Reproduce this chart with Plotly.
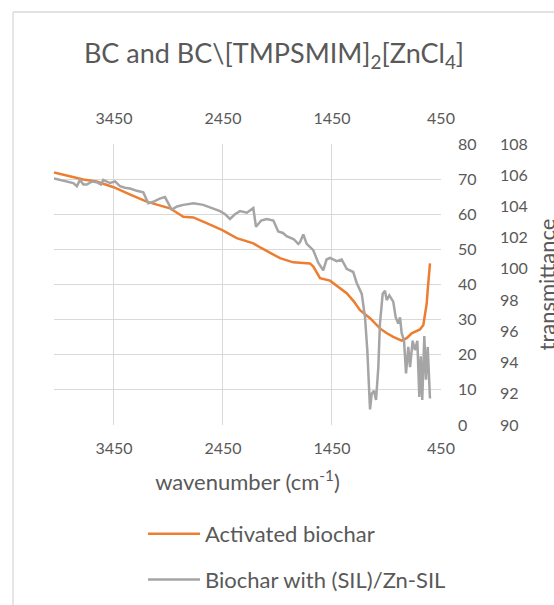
import plotly.graph_objects as go

# FTIR spectra: wavenumber (cm-1) vs transmittance
bc_wavenumber = [4000, 3854, 3731, 3609, 3453, 3300, 3150, 3040, 2936, 2814, 2722, 2600,
                 2456, 2324, 2171, 2100, 2049, 1927, 1805, 1700, 1652, 1621, 1590, 1560,
                 1468, 1400, 1315, 1250, 1193, 1101, 1010, 950, 888, 811, 765, 719, 643,
                 612, 600, 590, 581, 572, 563, 551]
bc_transmittance = [71.9, 70.7, 69.9, 69.3, 67.7, 65.6, 63.6, 62.6, 61.7, 59.3, 59.1, 57.5,
                    55.5, 53.2, 51.7, 50.4, 49.6, 47.5, 46.3, 46.1, 46.0, 45.1, 43.5, 41.8,
                    41.1, 39.4, 37.5, 35.2, 32.7, 30.4, 27.5, 26.2, 25.1, 24.0, 24.7, 26.1, 27.2,
                    28.5, 30.5, 32.7, 34.6, 38.4, 43.2, 46.0]

sil_wavenumber = [4000, 3930, 3870, 3823, 3790, 3762, 3730, 3700, 3650, 3609, 3570, 3548,
                  3520, 3487, 3440, 3395, 3350, 3303, 3240, 3181, 3135, 3089, 3030, 2982,
                  2921, 2870, 2814, 2720, 2631, 2550, 2477, 2430, 2386, 2340, 2294, 2230,
                  2172, 2147, 2100, 2049, 1988, 1943, 1900, 1866, 1800, 1759, 1744, 1713,
                  1682, 1622, 1576, 1530, 1500, 1468, 1407, 1361, 1315, 1255, 1223, 1177,
                  1147, 1126, 1101, 1086, 1065, 1046, 1025, 1010, 985, 964, 948, 924, 888,
                  866, 842, 826, 811, 789, 771, 750, 734, 710, 689, 667, 649, 636, 622, 603,
                  588, 572, 551]
sil_transmittance = [105.8, 105.7, 105.6, 105.5, 105.3, 105.7, 105.4, 105.4, 105.6, 105.55,
                     105.4, 105.7, 105.6, 105.5, 105.6, 105.3, 105.2, 105.15, 105.0, 104.9,
                     104.2, 104.3, 104.5, 104.6, 103.8, 104.0, 104.1, 104.2, 104.1, 103.9,
                     103.7, 103.5, 103.2, 103.5, 103.7, 103.6, 103.9, 102.7, 103.1, 103.2,
                     103.1, 102.4, 102.3, 102.1, 101.9, 101.6, 101.7, 102.2, 101.6, 101.2,
                     100.4, 99.9, 100.6, 100.7, 100.5, 100.6, 100.0, 99.8, 99.1, 98.4, 96.9,
                     94.8, 91.0, 92.0, 92.2, 91.6, 93.7, 96.5, 98.4, 98.6, 98.0, 98.3, 97.9,
                     96.9, 96.5, 96.9, 95.9, 95.4, 93.3, 95.0, 93.7, 95.4, 94.8, 95.4, 91.8,
                     94.4, 91.6, 95.7, 92.9, 95.0, 91.7]

series_names = ["Activated biochar", "Biochar with (SIL)/Zn-SIL"]
x_ticks = [3450, 2450, 1450, 450]

FONT = "Lato"
TEXT = "#595959"
GRID = "#D9D9D9"

fig = go.Figure()
fig.add_trace(go.Scatter(
    x=bc_wavenumber, y=bc_transmittance, name=series_names[0], mode="lines",
    line=dict(color="#ED7D31", width=2.5), legendgroup="a", xaxis="x", yaxis="y"))
fig.add_trace(go.Scatter(
    x=sil_wavenumber, y=sil_transmittance, name=series_names[1], mode="lines",
    line=dict(color="#A5A5A5", width=2.5), legendgroup="b", xaxis="x2", yaxis="y2"))

axis_font = dict(family=FONT, size=16, color=TEXT)
label_font = dict(family=FONT, size=22, color=TEXT)

fig.update_layout(
    width=554, height=605,
    margin=dict(l=54, r=113, t=144, b=180, autoexpand=False),
    paper_bgcolor="white", plot_bgcolor="white",
    font=dict(family=FONT, color=TEXT),
    title=dict(
        text="BC and BC\\[TMPSMIM]<sub>2</sub>[ZnCl<sub>4</sub>]",
        font=dict(family=FONT, size=27, color=TEXT),
        x=274 / 554, xref="container", xanchor="center",
        y=1 - 54 / 605, yref="container", yanchor="middle"),
    xaxis=dict(
        range=[4000, 450], tickvals=x_ticks, ticks="", showgrid=True, gridcolor=GRID,
        gridwidth=1.3, zeroline=False, showline=False, tickfont=axis_font,
        ticklabelstandoff=12,
        title=dict(text="wavenumber (cm<sup>-1</sup>)", font=label_font, standoff=18)),
    yaxis=dict(
        range=[0, 80], dtick=10, side="right", ticks="", showgrid=True, gridcolor=GRID,
        gridwidth=1.3, zeroline=False, showline=False, tickfont=axis_font,
        ticklabelstandoff=16),
    xaxis2=dict(
        range=[4000, 450], tickvals=x_ticks, side="top", overlaying="x", anchor="y2",
        ticks="", showgrid=False, zeroline=False, showline=False, tickfont=axis_font,
        ticklabelstandoff=16),
    yaxis2=dict(
        range=[90, 108], dtick=2, side="right", overlaying="y", anchor="x2",
        ticks="", showgrid=False, zeroline=False, showline=False, tickfont=axis_font,
        ticklabelstandoff=58),
    showlegend=True,
    legend=dict(
        x=(143 - 54) / 387, y=(425 - 513) / 281, xanchor="left", yanchor="top",
        font=label_font, tracegroupgap=14, itemwidth=52,
        bgcolor="rgba(0,0,0,0)"),
)

# title of the secondary value axis, set just past the outer tick labels
fig.add_annotation(
    text="transmittance", xref="paper", yref="paper",
    x=(546 - 54) / 387, y=0.5, xanchor="center", yanchor="middle",
    textangle=-90, showarrow=False, font=label_font)

# chart area frame
frame = dict(color=GRID, width=1.3)
fig.add_shape(type="line", xref="paper", yref="paper",
              x0=(13 - 54) / 387, x1=(13 - 54) / 387,
              y0=(425 - 12) / 281, y1=(425 - 610) / 281, line=frame)
fig.add_shape(type="line", xref="paper", yref="paper",
              x0=(13 - 54) / 387, x1=(560 - 54) / 387,
              y0=(425 - 12) / 281, y1=(425 - 12) / 281, line=frame)

fig.write_html("out.html")
